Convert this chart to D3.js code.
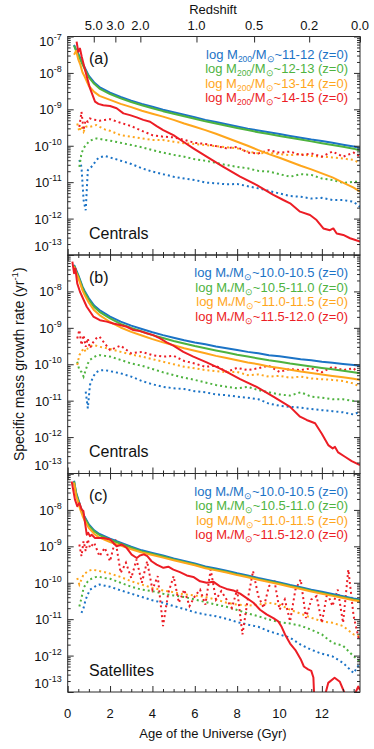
<!DOCTYPE html>
<html>
<head>
<meta charset="utf-8">
<script src="https://cdn.jsdelivr.net/npm/d3@7"></script>
<style>
  body { margin: 0; background: #fff; }
  text { font-family: "Liberation Sans", Arial, Helvetica, sans-serif; }
</style>
</head>
<body>
<div id="chart"></div>
<script>
// ---- data (values are log10 of the specific mass growth rate, yr^-1) ----
const solidAge = [0.3,0.4,0.5,0.6,0.7,0.8,1.0,1.25,1.5,2,2.5,3,3.5,4,4.5,5,5.5,6,6.5,7,7.5,8,8.5,9,9.5,10,10.5,11,11.5,12,12.5,13,13.5,13.8];
const dotAge = [0.45,0.55,0.65,0.75,0.85,0.95,1.05,1.2,1.35,1.5,1.75,2,2.5,3,3.5,4,4.5,5,5.5,6,6.5,7,7.5,8,8.5,9,9.5,10,10.5,11,11.5,12,12.5,13,13.5,13.8];

const zTickLabels = ["5.0","3.0","2.0","1.0","0.5","0.2","0.0"];
const zTickAge = [1.23,2.25,3.43,6.08,8.80,11.40,13.8];
const ageTicks = [0,2,4,6,8,10,12];

const haloBins = ["11-12","12-13","13-14","14-15"];
const stellarBins = ["10.0-10.5","10.5-11.0","11.0-11.5","11.5-12.0"];

// panel (a): centrals by halo mass
const blueSolidA = [-7.23,-7.37,-7.47,-7.60,-7.73,-7.85,-8.08,-8.26,-8.39,-8.54,-8.66,-8.76,-8.85,-8.93,-9.01,-9.08,-9.15,-9.22,-9.29,-9.35,-9.41,-9.47,-9.53,-9.58,-9.63,-9.68,-9.73,-9.78,-9.83,-9.87,-9.92,-9.97,-10.02,-10.06];
const greenSolidA = [-7.25,-7.40,-7.51,-7.64,-7.77,-7.89,-8.12,-8.30,-8.43,-8.58,-8.70,-8.80,-8.89,-8.97,-9.05,-9.12,-9.19,-9.26,-9.33,-9.39,-9.45,-9.51,-9.57,-9.63,-9.68,-9.73,-9.78,-9.83,-9.88,-9.93,-9.98,-10.03,-10.08,-10.13];
const orangeSolidA = [-7.50,-7.39,-7.63,-7.78,-7.99,-8.10,-8.36,-8.52,-8.63,-8.74,-8.85,-8.94,-9.04,-9.12,-9.20,-9.29,-9.39,-9.48,-9.57,-9.67,-9.78,-9.89,-10.00,-10.12,-10.23,-10.33,-10.44,-10.55,-10.65,-10.76,-10.87,-11.01,-11.15,-11.26];
const redSolidAgeA = [0.42,0.50,0.58,0.66,0.82,1.05,1.29,1.45,1.68,2.0,2.31,2.63,2.94,3.26,3.57,3.89,4.2,4.51,4.99,5.46,5.93,6.56,7.35,8.14,8.93,9.71,10.18,10.5,10.97,11.44,11.75,12.07,12.38,12.54,12.7,13.01,13.33,13.8];
const redSolidA = [-7.14,-7.42,-7.33,-7.55,-7.92,-8.42,-8.79,-8.85,-8.89,-8.91,-8.97,-9.11,-9.16,-9.22,-9.29,-9.34,-9.46,-9.57,-9.71,-9.89,-10.07,-10.30,-10.58,-10.85,-11.08,-11.35,-11.49,-11.58,-11.81,-11.90,-12.04,-12.27,-12.32,-12.27,-12.41,-12.45,-12.54,-12.63];
const blueDotA = [null,-10.39,-10.58,-11.49,-11.77,-10.67,-10.62,-10.53,-10.39,-10.32,-10.28,-10.32,-10.41,-10.50,-10.62,-10.71,-10.78,-10.85,-10.90,-10.94,-11.01,-11.03,-11.06,-11.05,-11.11,-11.17,-11.24,-11.31,-11.38,-11.40,-11.45,-11.43,-11.49,-11.49,-11.54,-11.68];
const greenDotA = [null,-10.58,-10.21,-10.07,-9.98,-9.92,-9.86,-9.83,-9.80,-9.81,-9.84,-9.86,-9.92,-9.98,-10.04,-10.12,-10.19,-10.25,-10.30,-10.37,-10.41,-10.47,-10.53,-10.58,-10.62,-10.69,-10.71,-10.78,-10.85,-10.78,-10.80,-10.90,-10.94,-11.02,-10.99,-10.99];
const orangeDotA = [-9.39,-9.61,-9.46,-9.61,-9.48,-9.46,-9.48,-9.46,-9.43,-9.48,-9.55,-9.59,-9.71,-9.75,-9.80,-9.84,-9.84,-9.89,-9.93,-9.95,-9.98,-10.01,-10.04,-10.07,-10.16,-10.21,-10.19,-10.23,-10.26,-10.23,-10.28,-10.30,-10.32,-10.35,-10.39,-10.48];
const redDotA = [null,-9.48,-9.07,-9.57,-9.29,-9.34,-9.25,-9.28,-9.29,-9.31,-9.29,-9.27,-9.37,-9.46,-9.59,-9.71,-9.75,-9.77,-9.84,-9.92,-9.95,-10.01,-10.07,-10.03,-10.19,-10.21,-10.12,-10.19,-10.16,-10.26,-10.21,-10.30,-10.16,-10.30,-10.19,-10.30];

// panel (b): centrals by stellar mass
const blueSolidB = [-7.27,-7.41,-7.55,-7.71,-7.87,-7.99,-8.19,-8.39,-8.51,-8.69,-8.83,-8.94,-9.03,-9.12,-9.20,-9.27,-9.34,-9.40,-9.45,-9.51,-9.56,-9.61,-9.66,-9.70,-9.75,-9.78,-9.82,-9.86,-9.89,-9.93,-9.96,-9.99,-10.02,-10.04];
const greenSolidB = [-7.29,-7.44,-7.58,-7.74,-7.90,-8.03,-8.23,-8.43,-8.56,-8.74,-8.89,-9.00,-9.10,-9.20,-9.28,-9.36,-9.43,-9.50,-9.56,-9.62,-9.68,-9.74,-9.79,-9.84,-9.89,-9.93,-9.98,-10.02,-10.06,-10.10,-10.14,-10.18,-10.22,-10.25];
const orangeSolidB = [-7.32,-7.48,-7.63,-7.80,-7.97,-8.10,-8.31,-8.52,-8.65,-8.84,-8.99,-9.11,-9.21,-9.31,-9.40,-9.48,-9.56,-9.63,-9.70,-9.77,-9.83,-9.89,-9.95,-10.00,-10.06,-10.10,-10.15,-10.20,-10.24,-10.28,-10.32,-10.36,-10.40,-10.43];
const redSolidAgeB = [0.22,0.30,0.36,0.45,0.58,0.90,1.21,1.52,1.84,2.15,2.47,2.79,3.1,3.41,3.73,4.04,4.36,4.67,4.99,5.46,5.93,6.56,7.35,8.14,8.92,9.71,10.5,10.97,11.28,11.68,11.99,12.3,12.51,12.62,12.77,13.09,13.41,13.8];
const redSolidB = [-7.18,-7.50,-7.37,-7.78,-8.01,-8.42,-8.69,-8.79,-8.83,-8.88,-8.92,-8.97,-9.06,-9.09,-9.15,-9.20,-9.29,-9.40,-9.49,-9.66,-9.79,-9.95,-10.16,-10.41,-10.62,-10.89,-11.17,-11.44,-11.53,-11.62,-11.90,-12.22,-12.31,-12.27,-12.42,-12.54,-12.66,-12.77];
const blueDotB = [null,null,null,null,-10.75,-11.21,-10.57,-10.34,-10.22,-10.17,-10.16,-10.19,-10.25,-10.34,-10.46,-10.55,-10.62,-10.66,-10.68,-10.74,-10.77,-10.83,-10.85,-10.89,-10.92,-10.96,-11.08,-11.14,-11.17,-11.19,-11.23,-11.26,-11.29,-11.32,-11.38,-11.30];
const greenDotB = [-9.93,-10.16,-10.21,-10.34,-10.16,-9.98,-9.88,-9.82,-9.77,-9.75,-9.77,-9.79,-9.88,-9.98,-10.04,-10.13,-10.22,-10.30,-10.37,-10.43,-10.50,-10.57,-10.62,-10.66,-10.62,-10.71,-10.77,-10.83,-10.86,-10.77,-10.89,-10.92,-10.96,-10.96,-11.01,-11.03];
const orangeDotB = [-10.02,-9.75,-9.66,-9.56,-9.66,-9.56,-9.52,-9.47,-9.49,-9.52,-9.55,-9.58,-9.66,-9.73,-9.79,-9.86,-9.93,-10.00,-10.07,-10.11,-10.16,-10.19,-10.22,-10.21,-10.30,-10.28,-10.34,-10.32,-10.37,-10.34,-10.39,-10.41,-10.43,-10.46,-10.53,-10.62];
const redDotB = [-9.29,-9.06,-9.47,-9.20,-9.52,-9.29,-9.56,-9.40,-9.29,-9.24,-9.43,-9.61,-9.49,-9.70,-9.66,-9.75,-9.79,-9.77,-9.91,-9.98,-10.07,-10.04,-10.21,-10.10,-10.16,-10.11,-10.04,-10.21,-10.13,-10.16,-10.11,-10.22,-10.07,-10.16,-10.11,-10.30];

// panel (c): satellites by stellar mass
const blueSolidC = [-7.20,-7.53,-7.71,-7.90,-8.06,-8.19,-8.40,-8.56,-8.66,-8.79,-8.90,-9.01,-9.11,-9.18,-9.25,-9.33,-9.40,-9.47,-9.55,-9.61,-9.67,-9.74,-9.80,-9.87,-9.93,-9.99,-10.06,-10.12,-10.19,-10.25,-10.31,-10.37,-10.43,-10.46];
const greenSolidC = [-7.22,-7.56,-7.74,-7.93,-8.09,-8.22,-8.43,-8.59,-8.69,-8.82,-8.93,-9.04,-9.14,-9.21,-9.28,-9.36,-9.43,-9.50,-9.58,-9.64,-9.70,-9.77,-9.83,-9.90,-9.96,-10.02,-10.09,-10.15,-10.22,-10.28,-10.34,-10.40,-10.46,-10.49];
const orangeSolidC = [-7.25,-7.62,-7.81,-8.00,-8.16,-8.29,-8.50,-8.66,-8.76,-8.88,-8.98,-9.08,-9.17,-9.24,-9.31,-9.38,-9.45,-9.52,-9.60,-9.66,-9.72,-9.79,-9.85,-9.92,-9.98,-10.04,-10.11,-10.17,-10.24,-10.30,-10.36,-10.42,-10.48,-10.51];
const redSolidAgeC = [0.19,0.34,0.45,0.55,0.66,0.74,0.82,0.90,0.97,1.05,1.13,1.29,1.68,2.0,2.15,2.31,2.55,2.78,3.02,3.26,3.41,3.60,3.76,3.96,4.2,4.52,4.75,4.99,5.3,5.62,5.93,6.25,6.56,6.87,7.19,7.5,7.82,8.14,8.45,8.77,9.08,9.39,9.71,9.94,10.1,10.26,10.5,10.75,11.0,11.15,11.35,11.5,11.6,11.7,11.95,12.1,12.3,12.6,12.85,13.05,13.2,13.4,13.6,13.72,13.8];
const redSolidC = [-7.22,-7.71,-7.90,-7.81,-7.99,-8.03,-8.36,-8.68,-8.63,-8.72,-8.68,-8.77,-8.77,-8.81,-8.90,-9.00,-8.95,-9.04,-9.23,-9.32,-9.25,-9.22,-9.27,-9.41,-9.50,-9.59,-9.56,-9.64,-9.71,-9.80,-9.84,-9.96,-10.00,-9.97,-10.10,-10.17,-10.21,-10.30,-10.42,-10.55,-10.74,-10.87,-10.97,-11.06,-11.21,-11.42,-11.67,-11.85,-12.10,-12.30,-12.38,-12.42,-12.60,-14.0,-14.0,-13.20,-12.75,-12.61,-12.72,-13.00,-14.0,-14.0,-13.00,-12.85,-12.95];
const blueDotC = [null,null,-10.83,-10.69,-10.46,-10.32,-10.19,-10.14,-10.08,-10.05,-10.08,-10.11,-10.21,-10.30,-10.39,-10.48,-10.55,-10.64,-10.72,-10.81,-10.87,-10.92,-10.99,-11.08,-11.15,-11.21,-11.33,-11.42,-11.51,-11.70,-11.84,-11.95,-12.02,-12.20,-12.48,-12.20];
const greenDotC = [null,-10.65,-10.42,-10.14,-10.05,-9.96,-9.91,-9.87,-9.84,-9.84,-9.87,-9.89,-10.00,-10.11,-10.19,-10.23,-10.30,-10.35,-10.39,-10.46,-10.53,-10.60,-10.66,-10.75,-10.84,-10.92,-11.01,-11.08,-11.12,-11.18,-11.29,-11.42,-11.65,-11.73,-12.02,-12.16];
const orangeDotC = [-9.87,-10.05,-9.91,-9.77,-9.73,-9.68,-9.66,-9.64,-9.66,-9.68,-9.71,-9.75,-9.84,-9.96,-10.05,-10.14,-10.21,-10.26,-10.32,-10.35,-10.39,-10.46,-10.55,-10.60,-10.63,-10.60,-10.55,-10.60,-10.74,-10.85,-10.96,-11.06,-11.10,-11.19,-11.42,-11.47];
const redDotAgeC = [0.55,0.65,0.75,0.85,0.95,1.05,1.25,1.5,1.75,2.0,2.25,2.5,2.75,3.0,3.25,3.5,3.75,4.0,4.25,4.5,4.75,5.0,5.25,5.5,5.75,6.0,6.25,6.5,6.75,7.0,7.25,7.5,7.75,8.0,8.25,8.5,8.75,9.0,9.25,9.5,9.75,10.0,10.25,10.5,10.75,11.0,11.25,11.5,11.75,12.0,12.25,12.5,12.75,13.0,13.25,13.5,13.75];
const redDotC = [-8.95,-9.27,-8.86,-9.13,-8.81,-9.04,-8.90,-9.27,-9.04,-9.41,-8.81,-9.73,-9.45,-9.87,-9.36,-10.00,-9.41,-10.19,-9.82,-11.19,-10.28,-9.82,-10.55,-10.19,-10.64,-10.37,-10.19,-10.60,-9.64,-10.46,-10.23,-10.46,-10.69,-10.19,-11.42,-10.46,-9.68,-10.37,-10.69,-10.10,-9.91,-10.74,-10.46,-11.06,-10.19,-9.91,-10.97,-10.46,-10.37,-11.10,-10.28,-10.64,-10.19,-11.10,-9.64,-10.92,-11.56];

// ---- layout ----
const W = 374, H = 749;
const left = 67.7, right = 360, panelH = 218.5;
const panelTops = [36.5, 255, 473.5];
const colors = ["#1b73c6", "#4eb33f", "#ffa61c", "#ec1d25"];
const frameColor = "#2b2b2b";

const svg = d3.select("#chart").append("svg")
  .attr("width", W)
  .attr("height", H);

const x = d3.scaleLinear().domain([0, 13.8]).range([left, right]);

function zip(ages, vals) {
  return ages.map((a, i) => [a, vals[i]]);
}

const panels = [
  {
    tag: "(a)", name: "Centrals", massSub: "200", bins: haloBins, expLabels: [-7,-8,-9,-10,-11,-12,-13],
    solid: [zip(solidAge, blueSolidA), zip(solidAge, greenSolidA), zip(solidAge, orangeSolidA), zip(redSolidAgeA, redSolidA)],
    dotted: [zip(dotAge, blueDotA), zip(dotAge, greenDotA), zip(dotAge, orangeDotA), zip(dotAge, redDotA)]
  },
  {
    tag: "(b)", name: "Centrals", massSub: "*", bins: stellarBins, expLabels: [-8,-9,-10,-11,-12,-13],
    solid: [zip(solidAge, blueSolidB), zip(solidAge, greenSolidB), zip(solidAge, orangeSolidB), zip(redSolidAgeB, redSolidB)],
    dotted: [zip(dotAge, blueDotB), zip(dotAge, greenDotB), zip(dotAge, orangeDotB), zip(dotAge, redDotB)]
  },
  {
    tag: "(c)", name: "Satellites", massSub: "*", bins: stellarBins, expLabels: [-8,-9,-10,-11,-12,-13],
    solid: [zip(solidAge, blueSolidC), zip(solidAge, greenSolidC), zip(solidAge, orangeSolidC), zip(redSolidAgeC, redSolidC)],
    dotted: [zip(dotAge, blueDotC), zip(dotAge, greenDotC), zip(dotAge, orangeDotC), zip(redDotAgeC, redDotC)]
  }
];

const majorY = d3.range(-13, -6).map(e => Math.pow(10, e));
const minorY = [];
d3.range(-13, -7).forEach(e => d3.range(2, 10).forEach(k => minorY.push(k * Math.pow(10, e))));
const minorX = d3.range(0.5, 13.8, 0.5).filter(v => v % 2 !== 0);
const labelNudge = {"-7": 4, "-13": -9};

panels.forEach((p, pi) => {
  const top = panelTops[pi];
  const bottom = top + panelH;
  const y = d3.scaleLog().domain([1e-13, 1e-7]).range([bottom, top]);
  const g = svg.append("g");

  const clipId = `clip${pi}`;
  svg.append("clipPath").attr("id", clipId)
    .append("rect")
    .attr("x", left).attr("y", top)
    .attr("width", right - left).attr("height", panelH);

  const line = d3.line()
    .defined(d => d[1] !== null)
    .x(d => x(d[0]))
    .y(d => y(Math.pow(10, d[1])));

  const plot = g.append("g").attr("clip-path", `url(#${clipId})`);

  plot.selectAll("path.dotted")
    .data(p.dotted).enter()
    .append("path")
    .classed("dotted", true)
    .attr("d", line)
    .attr("fill", "none")
    .attr("stroke", (d, i) => colors[i])
    .attr("stroke-width", 2)
    .attr("stroke-dasharray", "2,3");

  plot.selectAll("path.solid")
    .data(p.solid).enter()
    .append("path")
    .classed("solid", true)
    .attr("d", line)
    .attr("fill", "none")
    .attr("stroke", (d, i) => colors[i])
    .attr("stroke-width", 2)
    .attr("stroke-linejoin", "round");

  // axes: all ticks point inward
  const axes = g.append("g").attr("color", frameColor);
  const clean = sel => sel.select(".domain").remove();

  axes.append("g").attr("transform", `translate(${left},0)`)
    .call(d3.axisLeft(y).tickValues(majorY).tickSize(-6).tickFormat("")).call(clean);
  axes.append("g").attr("transform", `translate(${left},0)`)
    .call(d3.axisLeft(y).tickValues(minorY).tickSize(-3).tickFormat("")).call(clean);
  axes.append("g").attr("transform", `translate(${right},0)`)
    .call(d3.axisRight(y).tickValues(majorY).tickSize(-6).tickFormat("")).call(clean);
  axes.append("g").attr("transform", `translate(${right},0)`)
    .call(d3.axisRight(y).tickValues(minorY).tickSize(-3).tickFormat("")).call(clean);

  axes.append("g").attr("transform", `translate(0,${bottom})`)
    .call(d3.axisBottom(x).tickValues(ageTicks).tickSize(-6).tickFormat("")).call(clean);
  axes.append("g").attr("transform", `translate(0,${bottom})`)
    .call(d3.axisBottom(x).tickValues(minorX).tickSize(-3).tickFormat("")).call(clean);

  if (pi === 0) {
    axes.append("g").attr("transform", `translate(0,${top})`)
      .call(d3.axisTop(x).tickValues(zTickAge).tickSize(-6).tickFormat("")).call(clean);
  } else {
    axes.append("g").attr("transform", `translate(0,${top})`)
      .call(d3.axisTop(x).tickValues(ageTicks).tickSize(-6).tickFormat("")).call(clean);
    axes.append("g").attr("transform", `translate(0,${top})`)
      .call(d3.axisTop(x).tickValues(minorX).tickSize(-3).tickFormat("")).call(clean);
  }

  g.append("rect")
    .attr("x", left).attr("y", top)
    .attr("width", right - left).attr("height", panelH)
    .attr("fill", "none")
    .attr("stroke", frameColor)
    .attr("stroke-width", 1);

  // y tick labels 10^n
  const yl = g.selectAll("text.ylab")
    .data(p.expLabels).enter()
    .append("text")
    .classed("ylab", true)
    .attr("x", left - 6)
    .attr("y", e => y(Math.pow(10, e)) + 5 + (labelNudge[e] || 0))
    .attr("text-anchor", "end")
    .attr("font-size", 13)
    .attr("fill", "#111");
  yl.append("tspan").text("10");
  yl.append("tspan").attr("dy", -6).attr("font-size", 9).text(e => e);

  // panel tag and sample name
  g.append("text")
    .attr("x", 89).attr("y", top + 27.5)
    .attr("font-size", 16).attr("fill", "#111")
    .text(p.tag);
  g.append("text")
    .attr("x", 89).attr("y", top + 202)
    .attr("font-size", 16).attr("fill", "#111")
    .text(p.name);

  // legend
  const lg = g.selectAll("text.legend")
    .data(p.bins).enter()
    .append("text")
    .classed("legend", true)
    .attr("x", 348)
    .attr("y", (d, i) => top + 22 + i * 14.6)
    .attr("text-anchor", "end")
    .attr("font-size", 13)
    .attr("fill", (d, i) => colors[i]);
  lg.append("tspan").text("log M");
  lg.append("tspan").attr("dy", 3).attr("font-size", 8.5).text(p.massSub);
  lg.append("tspan").attr("dy", -3).text("/M");
  lg.append("tspan").attr("dy", 3).attr("font-size", 9).text("\u2299");
  lg.append("tspan").attr("dy", -3).text(d => `~${d} (z=0)`);
});

// bottom age labels
svg.selectAll("text.xlab")
  .data(ageTicks).enter()
  .append("text")
  .classed("xlab", true)
  .attr("x", d => x(d))
  .attr("y", 718)
  .attr("text-anchor", "middle")
  .attr("font-size", 13)
  .attr("fill", "#111")
  .text(d => d);

svg.append("text")
  .attr("x", 213).attr("y", 738)
  .attr("text-anchor", "middle")
  .attr("font-size", 13)
  .attr("fill", "#111")
  .text("Age of the Universe (Gyr)");

// top redshift labels
svg.selectAll("text.zlab")
  .data(zTickLabels).enter()
  .append("text")
  .classed("zlab", true)
  .attr("x", (d, i) => x(zTickAge[i]))
  .attr("y", 30)
  .attr("text-anchor", "middle")
  .attr("font-size", 13)
  .attr("fill", "#111")
  .text(d => d);

svg.append("text")
  .attr("x", 213).attr("y", 14)
  .attr("text-anchor", "middle")
  .attr("font-size", 13)
  .attr("fill", "#111")
  .text("Redshift");

// y title
const yt = svg.append("text")
  .attr("transform", `translate(24,${(panelTops[0] + panelTops[2] + panelH) / 2}) rotate(-90)`)
  .attr("text-anchor", "middle")
  .attr("font-size", 14)
  .attr("fill", "#111");
yt.append("tspan").text("Specific mass growth rate (yr");
yt.append("tspan").attr("dy", -6).attr("font-size", 9.5).text("-1");
yt.append("tspan").attr("dy", 6).text(")");
</script>
</body>
</html>
